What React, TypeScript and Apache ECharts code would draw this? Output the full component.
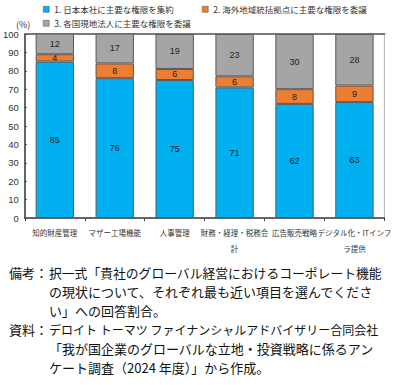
import React, { useEffect, useRef } from "react";
import * as echarts from "echarts";

const categories = [
  "知的財産管理",
  "マザー工場機能",
  "人事管理",
  "財務・経理・税務会\n計",
  "広告販売戦略",
  "デジタル化・ITインフ\nラ提供",
];
const seriesNames = [
  "1. 日本本社に主要な権限を集約",
  "2. 海外地域統括拠点に主要な権限を委譲",
  "3. 各国現地法人に主要な権限を委譲",
];
const hqValues = [85, 76, 75, 71, 62, 63];
const regionalValues = [4, 8, 6, 6, 8, 9];
const localValues = [12, 17, 19, 23, 30, 28];
const noteLines = [
  "択一式「貴社のグローバル経営におけるコーポレート機能",
  "の現状について、それぞれ最も近い項目を選んでくださ",
  "い」への回答割合。",
];
const sourceLines = [
  "デロイト トーマツ ファイナンシャルアドバイザリー合同会社",
  "「我が国企業のグローバルな立地・投資戦略に係るアン",
  "ケート調査（2024 年度）」から作成。",
];

const FONT = "'Noto Sans CJK JP', 'Noto Sans', sans-serif";
const NUMFONT = "Arial, 'Liberation Sans', sans-serif";
const colors = ["#00B0F0", "#ED7D31", "#A5A5A5"];

export default function App() {
  const ref = useRef<HTMLDivElement>(null);
  useEffect(() => {
    if (!ref.current) return;
    const chart = echarts.init(ref.current, undefined, { renderer: "svg" });
    const values = [hqValues, regionalValues, localValues];
    const legendPos = [
      { left: 43, top: 5 },
      { left: 202, top: 5 },
      { left: 43, top: 19 },
    ];
    const textEls: any[] = [];
    const lineY0 = 272;
    const lh = 19;
    const allLines = [...noteLines, ...sourceLines];
    const sizes = [12.8, 13, 13, 12, 13, 13];
    allLines.forEach((t, i) => {
      textEls.push({
        type: "text",
        x: 49,
        y: lineY0 + i * lh,
        style: { text: t, font: `${sizes[i]}px ${FONT}`, fill: "#111", textVerticalAlign: "middle" },
      });
    });
    [["備考：", 0], ["資料：", 3]].forEach(([label, idx]: any) => {
      textEls.push({
        type: "text",
        x: 9,
        y: lineY0 + idx * lh,
        style: { text: label, font: `13px ${FONT}`, fill: "#111", textVerticalAlign: "middle" },
      });
    });
    textEls.push({
      type: "text",
      x: 16,
      y: 24,
      style: { text: "(%)", font: `9px ${FONT}`, fill: "#333", textVerticalAlign: "middle" },
    });

    chart.setOption({
      animation: false,
      backgroundColor: "#fff",
      textStyle: { fontFamily: FONT },
      color: colors,
      legend: seriesNames.map((n, i) => ({
        data: [n],
        ...legendPos[i],
        itemWidth: 6,
        itemHeight: 6,
        icon: "rect",
        itemStyle: { borderColor: "#555", borderWidth: 0.5 },
        textStyle: { fontSize: 8.5, color: "#333", fontFamily: FONT },
        padding: 0,
      })),
      grid: {
        left: 24,
        right: 4,
        top: 34,
        bottom: 167,
        show: true,
        borderColor: "#b0b0b0",
        borderWidth: 1,
      },
      xAxis: [
        {
          type: "category",
          data: categories,
          axisLine: { lineStyle: { color: "#404040", width: 1.5 } },
          axisTick: { show: true, length: 3, lineStyle: { color: "#404040" } },
          axisLabel: {
            interval: 0,
            fontSize: 7.5,
            color: "#333",
            lineHeight: 16,
            margin: 6,
            fontFamily: FONT,
          },
        },
        {
          type: "category",
          position: "top",
          data: categories,
          axisLine: { lineStyle: { color: "#7a7a7a", width: 2 } },
          axisTick: { show: false },
          axisLabel: { show: false },
        },
      ],
      yAxis: {
        type: "value",
        min: 0,
        max: 100,
        interval: 10,
        splitLine: { show: false },
        axisLine: { show: true, lineStyle: { color: "#404040", width: 1.5 } },
        axisTick: { show: true, inside: true, length: 2, lineStyle: { color: "#404040" } },
        axisLabel: { fontSize: 9.5, color: "#333", margin: 6, fontFamily: NUMFONT },
      },
      series: seriesNames.map((n, i) => ({
        name: n,
        type: "bar",
        stack: "total",
        barWidth: "64%",
        data: values[i],
        itemStyle: { color: colors[i], borderColor: "#595959", borderWidth: 1 },
        label: {
          show: true,
          position: "inside",
          fontSize: 9,
          color: "#222",
          fontFamily: NUMFONT,
        },
      })),
      graphic: textEls,
    });
    return () => chart.dispose();
  }, []);
  return (
    <div
      ref={ref}
      style={{ position: "fixed", left: 0, top: 0, width: 394, height: 385, background: "#fff" }}
    />
  );
}
